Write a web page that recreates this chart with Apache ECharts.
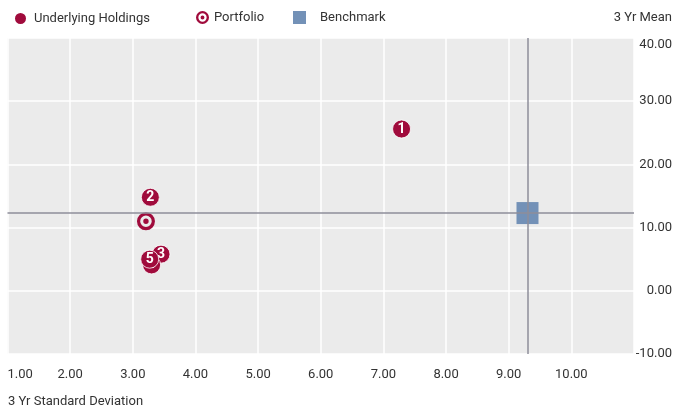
<!DOCTYPE html>
<html>
<head>
<meta charset="utf-8">
<script src="https://cdn.jsdelivr.net/npm/echarts@6/dist/echarts.min.js"></script>
<style>
  html, body { margin: 0; padding: 0; background: #fff; }
  #chart { width: 675px; height: 408px; }
</style>
</head>
<body>
<div id="chart"></div>
<script>
// data
const holdingsX = [7.29, 3.28, 3.45, 3.30, 3.27]
const holdingsY = [25.6, 14.8, 5.8, 4.1, 5.0]
const holdingsLabels = ['1', '2', '3', '4', '5']
const portfolioX = [3.21]
const portfolioY = [11.0]
const benchmarkX = [9.30]
const benchmarkY = [12.3]
const xTicks = [1, 2, 3, 4, 5, 6, 7, 8, 9, 10]
const yTicks = [-10, 0, 10, 20, 30, 40]

const FONT = "'Liberation Sans Narrow', Roboto, sans-serif"
const RED = '#a00b3c'
const BLUE = '#7391b7'
const LINE = '#8e8e9a'

// target icon: outer disc, hole, dot (nonzero winding)
const TARGET = 'path://M0,10 A10,10 0 1,1 20,10 A10,10 0 1,1 0,10 Z ' +
  'M3.6,10 A6.4,6.4 0 1,0 16.4,10 A6.4,6.4 0 1,0 3.6,10 Z ' +
  'M7,10 A3,3 0 1,1 13,10 A3,3 0 1,1 7,10 Z'

const portfolio = portfolioX.map((x, i) => [x, portfolioY[i]])
const benchmark = benchmarkX.map((x, i) => [x, benchmarkY[i]])

// one series per holding so a later circle covers the earlier label
const holdingSeries = holdingsX.map((x, i) => ({
  name: 'Underlying Holdings',
  type: 'scatter',
  data: [[x, holdingsY[i], holdingsLabels[i]]],
  symbol: 'circle',
  symbolSize: 18,
  itemStyle: { color: RED, borderColor: '#fff', borderWidth: 0.8, opacity: 1 },
  label: {
    show: true, position: 'inside', color: '#fff', fontWeight: 'bold', fontSize: 14,
    fontFamily: FONT,
    formatter: p => p.data[2]
  },
  z: 4 + i
}))

const chart = echarts.init(document.getElementById('chart'))

const legendText = { color: '#333', fontFamily: FONT, fontSize: 13 }

chart.setOption({
  animation: false,
  textStyle: { fontFamily: FONT },
  grid: { left: 7.5, right: 41, top: 38, bottom: 54 },
  legend: [
    { data: [{ name: 'Underlying Holdings', icon: 'circle' }], left: 13, top: 11, padding: 0, itemWidth: 13, itemHeight: 13,
      textStyle: Object.assign({ padding: [0, 0, 0, 2] }, legendText), selectedMode: false },
    { data: [{ name: 'Portfolio', icon: TARGET }], left: 196, top: 11, padding: 0, itemWidth: 13, itemHeight: 13,
      textStyle: Object.assign({ padding: [0, 0, 0, 0] }, legendText), selectedMode: false },
    { data: [{ name: 'Benchmark', icon: 'rect' }], left: 293, top: 11, padding: 0, itemWidth: 13, itemHeight: 13,
      textStyle: Object.assign({ padding: [0, 0, 0, 9] }, legendText), selectedMode: false }
  ],
  graphic: [
    { type: 'text', right: 3, top: 11, style: { text: '3 Yr Mean', fill: '#333', font: '13px ' + FONT } },
    { type: 'text', left: 8, top: 395, style: { text: '3 Yr Standard Deviation', fill: '#333', font: '13px ' + FONT } }
  ],
  xAxis: {
    type: 'value',
    min: 1, max: 11, interval: 1,
    axisLine: { show: false },
    axisTick: { show: false },
    axisLabel: {
      color: '#333', fontSize: 13, margin: 14,
      showMaxLabel: false, alignMinLabel: 'left',
      formatter: v => xTicks.includes(v) ? v.toFixed(2) : ''
    },
    splitLine: { lineStyle: { color: '#fff', width: 1.5 } }
  },
  yAxis: {
    type: 'value',
    position: 'right',
    min: -10, max: 40, interval: 10,
    axisLine: { show: false },
    axisTick: { show: false },
    axisLabel: {
      color: '#333', fontSize: 13, margin: 38, align: 'right',
      verticalAlignMaxLabel: 'top',
      formatter: v => yTicks.includes(v) ? v.toFixed(2) : ''
    },
    splitLine: { lineStyle: { color: '#fff', width: 1.5 } },
    splitArea: { show: true, areaStyle: { color: ['#ebebeb', '#ebebeb'] } }
  },
  series: [
    {
      name: 'Benchmark',
      type: 'scatter',
      data: benchmark,
      symbol: 'rect',
      symbolSize: 22,
      itemStyle: { color: BLUE, opacity: 1 },
      z: 2,
      markLine: {
        silent: true,
        symbol: 'none',
        label: { show: false },
        lineStyle: { color: LINE, width: 1.5, type: 'solid' },
        data: [{ xAxis: benchmarkX[0] }, { yAxis: benchmarkY[0] }]
      }
    },
    {
      name: 'Portfolio',
      type: 'scatter',
      data: portfolio,
      symbol: TARGET,
      symbolSize: 18,
      itemStyle: { color: RED, opacity: 1 },
      z: 3
    }
  ].concat(holdingSeries)
})
</script>
</body>
</html>
